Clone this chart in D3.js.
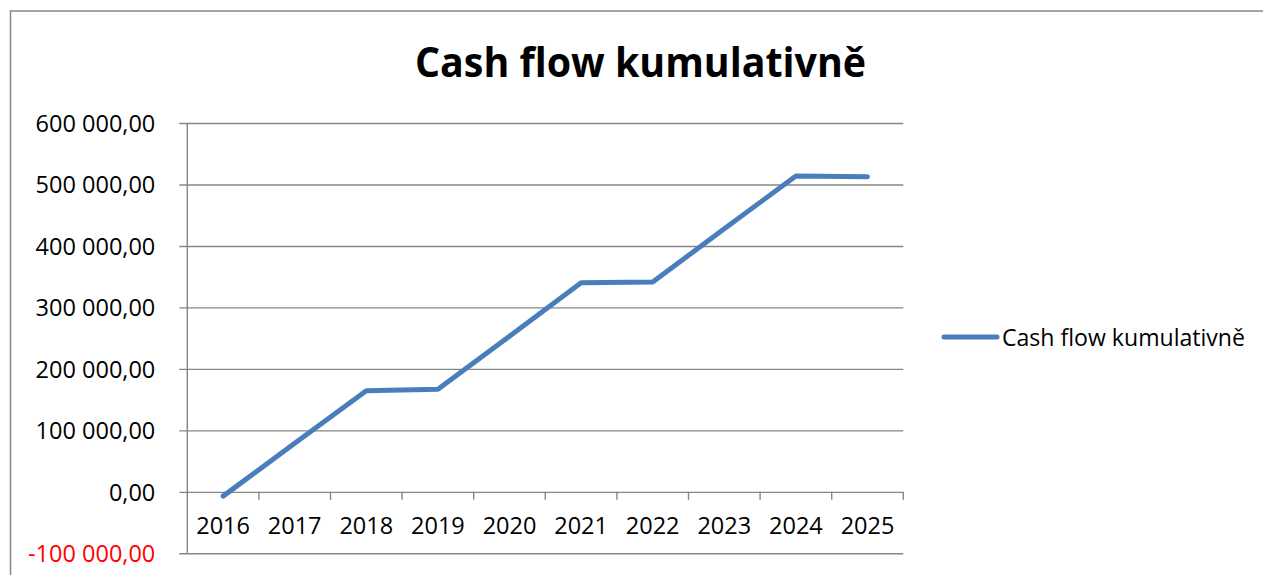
<!DOCTYPE html>
<html>
<head>
<meta charset="utf-8">
<script src="https://cdn.jsdelivr.net/npm/d3@7"></script>
<style>
  body { margin: 0; background: #fff; }
  svg { display: block; font-family: 'Open Sans', sans-serif; }
</style>
</head>
<body>
<svg id="chart" width="1263" height="575"></svg>
<script>
// data
const years = ['2016', '2017', '2018', '2019', '2020', '2021', '2022', '2023', '2024', '2025']
const cashFlow = [-7000, 79000, 164500, 167000, 253000, 340000, 341300, 428000, 513700, 512600]
const yTicks = [-100000, 0, 100000, 200000, 300000, 400000, 500000, 600000]
const seriesName = 'Cash flow kumulativně'
const title = 'Cash flow kumulativně'

const svg = d3.select('#chart')

/* ----------  FRAME  ---------- */
svg.append('rect')
  .attr('x', 10.5)
  .attr('y', 11)
  .attr('width', 1300)
  .attr('height', 700)
  .attr('fill', '#fff')
  .attr('stroke', '#878787')
  .attr('stroke-width', 1.5)

const plotLeft = 187.3
const plotRight = 903.3
const plotTop = 123
const plotBottom = 553.3

const x = d3.scaleBand()
  .domain(years)
  .range([plotLeft, plotRight])

const y = d3.scaleLinear()
  .domain([-100000, 600000])
  .range([plotBottom, plotTop])

const locale = d3.formatLocale({ decimal: ',', thousands: '\u00a0', grouping: [3], currency: ['', ''], minus: '-' })
const fmt = locale.format(',.2f')

/* ----------  TITLE  ---------- */
svg.append('text')
  .attr('x', 640.5)
  .attr('y', 76.5)
  .attr('text-anchor', 'middle')
  .style('font-size', '41px')
  .style('font-weight', 700)
  .attr('textLength', 451)
  .attr('lengthAdjust', 'spacingAndGlyphs')
  .text(title)

/* ----------  Y AXIS + GRID  ---------- */
const yAxis = svg.append('g')
  .attr('transform', `translate(${plotLeft}, 0)`)
  .call(d3.axisLeft(y).tickValues(yTicks).tickSize(0).tickPadding(32).tickFormat(fmt))

yAxis.select('.domain').remove()
yAxis.selectAll('.tick line')
  .attr('x1', -8)
  .attr('x2', plotRight - plotLeft)
  .attr('stroke', '#868686')
  .attr('stroke-width', 1.4)
yAxis.selectAll('.tick text')
  .style('font-family', "'Open Sans', sans-serif")
  .style('font-size', '23.5px')
  .attr('dy', '0.36em')
  .attr('fill', d => d < 0 ? '#ff0000' : '#000')

svg.append('line')
  .attr('x1', plotLeft)
  .attr('x2', plotLeft)
  .attr('y1', plotTop)
  .attr('y2', plotBottom)
  .attr('stroke', '#868686')
  .attr('stroke-width', 1.4)

/* ----------  X AXIS (at zero)  ---------- */
const zeroY = y(0)
const xAxis = svg.append('g')
  .attr('transform', `translate(0, ${zeroY})`)

// ticks sit between categories, plus one at the right end
const sepX = years.slice(1).map(d => x(d)).concat([x(years[years.length - 1]) + x.bandwidth()])
xAxis.selectAll('.sep')
  .data(sepX)
  .join('line')
  .attr('class', 'sep')
  .attr('x1', d => d)
  .attr('x2', d => d)
  .attr('y1', 0)
  .attr('y2', 8)
  .attr('stroke', '#868686')
  .attr('stroke-width', 1.4)

xAxis.selectAll('.lbl')
  .data(years)
  .join('text')
  .attr('class', 'lbl')
  .attr('x', d => x(d) + x.bandwidth() / 2)
  .attr('y', 534 - zeroY)
  .attr('text-anchor', 'middle')
  .style('font-size', '23.5px')
  .text(d => d)

/* ----------  LINE  ---------- */
const line = d3.line()
  .x((d, i) => x(years[i]) + x.bandwidth() / 2)
  .y(d => y(d))

svg.append('path')
  .datum(cashFlow)
  .attr('fill', 'none')
  .attr('stroke', '#4a7ebb')
  .attr('stroke-width', 5)
  .attr('stroke-linecap', 'round')
  .attr('stroke-linejoin', 'round')
  .attr('d', line)

/* ----------  LEGEND  ---------- */
const legend = svg.append('g')
  .attr('transform', 'translate(942, 337)')

legend.append('line')
  .attr('x1', 2)
  .attr('x2', 55)
  .attr('stroke', '#4a7ebb')
  .attr('stroke-width', 5)
  .attr('stroke-linecap', 'round')

legend.append('text')
  .attr('x', 60)
  .attr('y', 9)
  .style('font-size', '23.5px')
  .attr('textLength', 243)
  .attr('lengthAdjust', 'spacingAndGlyphs')
  .text(seriesName)
</script>
</body>
</html>
